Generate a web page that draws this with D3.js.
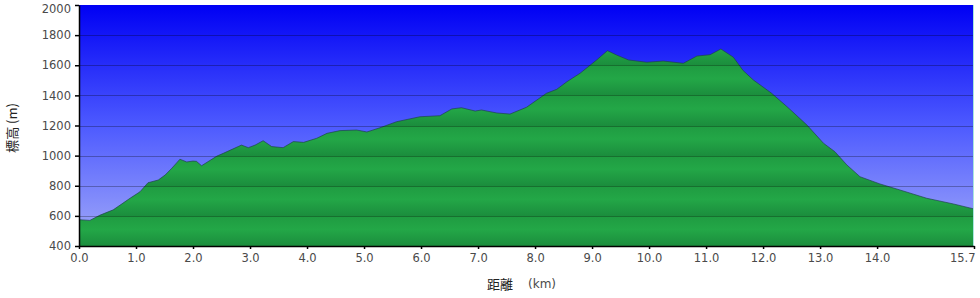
<html>
<head>
<script src="https://d3js.org/d3.v7.min.js"></script>
<style>
    body { margin: 0; background: #fff; }
    svg { display: block; }
    .tick text { font-family: "DejaVu Sans", Verdana, sans-serif; font-size: 11.5px; fill: #4a4a4a; }
    .title { font-family: "Noto Sans CJK JP", sans-serif; font-size: 13px; fill: #222; }
    .unit { font-family: "DejaVu Sans", Verdana, sans-serif; font-size: 12px; fill: #4a4a4a; }
</style>
</head>
<body>
<svg id="chart" width="980" height="298"></svg>
<script>
    // distance (km) and elevation (m)
    var dist = [0.0, 0.19, 0.37, 0.6, 0.9, 1.07, 1.21, 1.39, 1.51, 1.63, 1.77, 1.89, 2.0, 2.06, 2.15,
        2.42, 2.53, 2.85, 2.97, 3.09, 3.23, 3.38, 3.58, 3.76, 3.94, 4.17, 4.35, 4.58, 4.87, 5.05,
        5.28, 5.57, 5.98, 6.33, 6.54, 6.71, 6.95, 7.06, 7.33, 7.56, 7.85, 8.2, 8.38, 8.56, 8.79,
        9.08, 9.27, 9.43, 9.64, 9.96, 10.25, 10.6, 10.84, 11.07, 11.26, 11.48, 11.65, 11.83, 12.15,
        12.42, 12.77, 13.06, 13.26, 13.47, 13.7, 14.05, 14.4, 14.87, 15.34, 15.7];
    var elev = [575, 570, 605, 640, 718, 760, 820, 838, 871, 917, 976, 958, 964, 962, 933,
        997, 1015, 1070, 1053, 1070, 1099, 1060, 1053, 1093, 1088, 1115, 1148, 1166, 1170, 1157,
        1185, 1225, 1258, 1265, 1310, 1318, 1296, 1303, 1283, 1276, 1321, 1414, 1440, 1491, 1547,
        1635, 1697, 1668, 1635, 1620, 1628, 1613, 1661, 1670, 1708, 1653, 1565, 1502, 1414,
        1325, 1203, 1082, 1026, 938, 860, 812, 772, 717, 679, 646];
    var xTicks = [0, 1, 2, 3, 4, 5, 6, 7, 8, 9, 10, 11, 12, 13, 14, 15.7];
    var yTicks = [400, 600, 800, 1000, 1200, 1400, 1600, 1800, 2000];

    var svg = d3.select('#chart');
    var margin = { top: 5, left: 79, right: 6, bottom: 52 };
    var width = +svg.attr('width') - margin.left - margin.right;
    var height = +svg.attr('height') - margin.top - margin.bottom;

    var x = d3.scaleLinear().domain([0, 15.7]).range([0, width]);
    var y = d3.scaleLinear().domain([400, 2000]).range([height, 0]);

    var defs = svg.append('defs');
    var sky = defs.append('linearGradient').attr('id', 'sky')
        .attr('x1', 0).attr('y1', 0).attr('x2', 0).attr('y2', 1);
    sky.append('stop').attr('offset', 0).attr('stop-color', '#0000f4');
    sky.append('stop').attr('offset', 0.5).attr('stop-color', '#4d5aff');
    sky.append('stop').attr('offset', 1).attr('stop-color', '#a3abf8');

    // banded green, one band per grid step
    var band = defs.append('linearGradient').attr('id', 'band')
        .attr('gradientUnits', 'userSpaceOnUse').attr('spreadMethod', 'repeat')
        .attr('x1', 0).attr('x2', 0).attr('y1', y(600)).attr('y2', y(400));
    band.append('stop').attr('offset', 0).attr('stop-color', '#1f9b41');
    band.append('stop').attr('offset', 0.45).attr('stop-color', '#23a747');
    band.append('stop').attr('offset', 1).attr('stop-color', '#1b8d3d');

    var g = svg.append('g')
        .attr('transform', 'translate(' + margin.left + ',' + margin.top + ')');

    g.append('rect').attr('width', width).attr('height', height).attr('fill', 'url(#sky)');

    var pts = dist.map(function(d, i) { return [d, elev[i]]; });
    var area = d3.area()
        .x(function(d) { return x(d[0]); })
        .y0(height)
        .y1(function(d) { return y(d[1]); });
    var line = d3.line()
        .x(function(d) { return x(d[0]); })
        .y(function(d) { return y(d[1]); });

    g.append('path').datum(pts).attr('d', area).attr('fill', 'url(#band)');
    g.append('path').datum(pts).attr('d', line)
        .attr('fill', 'none').attr('stroke', '#1d3f4a').attr('stroke-opacity', 0.65).attr('stroke-width', 1);

    // grid
    g.selectAll('.grid').data(yTicks.slice(1, -1)).enter()
        .append('line').attr('class', 'grid')
        .attr('x1', 0).attr('x2', width)
        .attr('y1', function(d) { return Math.round(y(d)) + 0.5; })
        .attr('y2', function(d) { return Math.round(y(d)) + 0.5; })
        .attr('stroke', '#000').attr('stroke-opacity', 0.28);

    g.append('line').attr('x1', width - 0.5).attr('x2', width - 0.5).attr('y1', 0).attr('y2', height)
        .attr('stroke', '#a8e6de').attr('stroke-width', 1);

    var xAxis = g.append('g').attr('transform', 'translate(0,' + height + ')')
        .call(d3.axisBottom(x).tickValues(xTicks).tickFormat(d3.format('.1f')).tickSize(3).tickSizeOuter(0));
    var yAxis = g.append('g')
        .call(d3.axisLeft(y).tickValues(yTicks).tickFormat(d3.format('d')).tickSize(4).tickSizeOuter(0));
    xAxis.select('.domain').attr('stroke', '#000').attr('stroke-width', 1.5);
    yAxis.select('.domain').attr('stroke', '#000').attr('stroke-width', 1.5);
    xAxis.selectAll('.tick line').attr('stroke', '#000').attr('stroke-width', 1.5);
    yAxis.selectAll('.tick line').attr('stroke', '#000').attr('stroke-width', 1.5);
    xAxis.selectAll('.tick text').attr('dy', '0.72em').attr('y', 8);
    yAxis.selectAll('.tick text').attr('x', -8);

    // keep the end labels inside the page
    xAxis.selectAll('.tick text').filter(function(d) { return d === 15.7; })
        .attr('text-anchor', 'end').attr('x', 1);
    yAxis.selectAll('.tick text').filter(function(d) { return d === 2000; })
        .attr('dy', '0.75em').attr('y', -1);

    svg.append('text').attr('class', 'title')
        .attr('transform', 'translate(17,128) rotate(-90)')
        .attr('text-anchor', 'middle')
        .text('標高 (m)');

    svg.append('text').attr('class', 'title').attr('x', 487).attr('y', 289).text('距離');
    svg.append('text').attr('class', 'unit').attr('x', 528).attr('y', 288).text('(km)');
</script>
</body>
</html>
